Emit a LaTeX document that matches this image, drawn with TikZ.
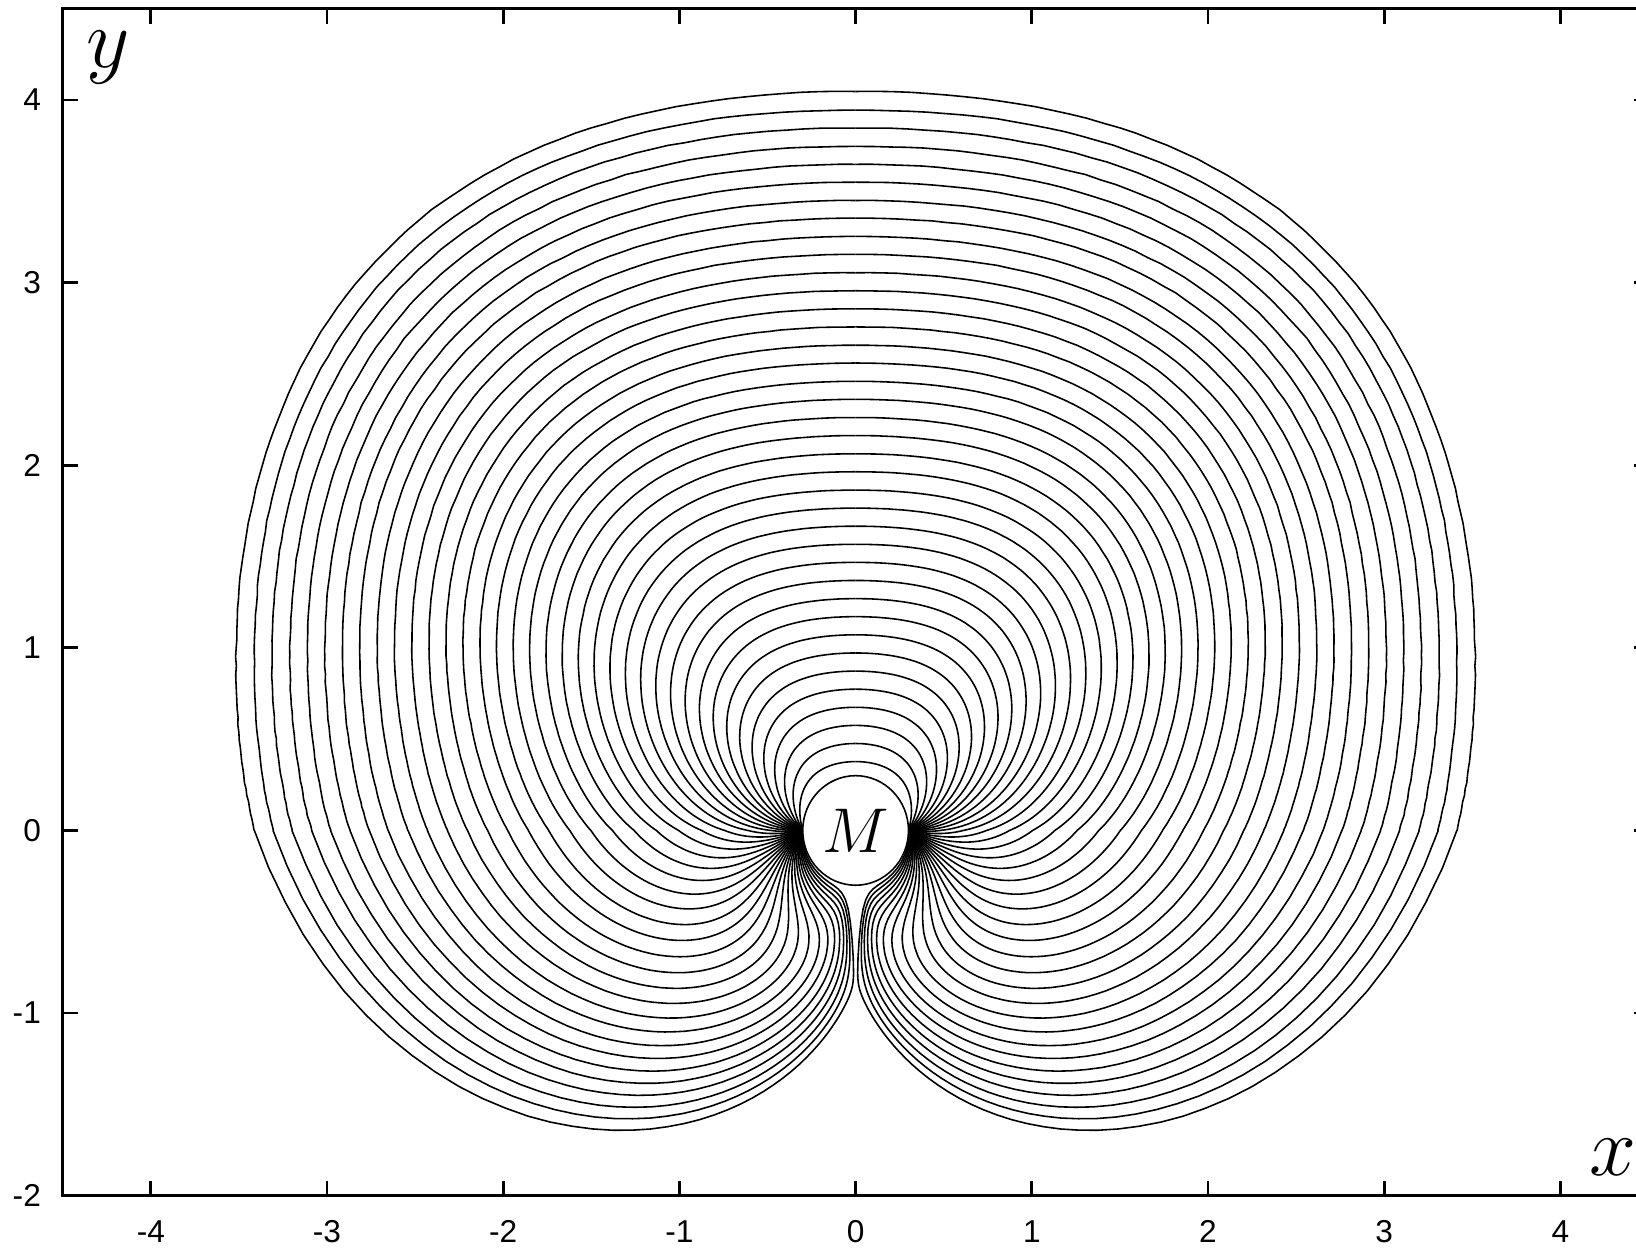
\RequirePackage{fix-cm}
\documentclass[tikz,border=0pt]{standalone}
\usepackage{fontspec}
\newfontfamily\ticksfont{Liberation Sans}

\begin{document}
\begin{tikzpicture}[x=1.762cm,y=1.826cm,
  fieldline/.style={line width=0.45pt,line join=round},
  axisline/.style={line width=0.8pt},
  ticklabel/.style={font=\ticksfont\fontsize{9}{10}\selectfont,inner sep=0pt},
  axislabel/.style={font=\fontsize{24}{26}\selectfont,anchor=base,inner sep=0pt},
  declare function={
    bup(\t)=2.4177+2.2876*cos(\t+90)-1.2908*cos(2*\t+180)+0.614*cos(3*\t+270)-0.2885*cos(4*\t);
    rlow(\t)=3.42-1.9*((180-\t)/90)-0.63*((180-\t)/90)^2;
    darm(\t)=0.6742+0.8391*(1-exp(-(\t-90)/4));
    blow(\t)=2.26*(darm(\t)+sin(\t)*0.6/rlow(\t));
    glow(\t)=2.26*darm(\t)/rlow(\t);}]
\useasboundingbox (-4.856,-2.286) rectangle (4.429,4.548);
\clip (-4.856,-2.286) rectangle (4.429,4.548);

% lines from the left point round to the right point, top at y=0.377..4.045
\foreach \k in {1,...,38}{
  \pgfmathsetmacro\rt{2*atan(0.3/(0.377+0.0991*(\k-1)))/57.29578}
  \pgfmathsetmacro\cc{0.6/\rt-2.26*\rt-3.74}
  \xdef\pts{}
  \pgfmathtruncatemacro\lobe{3.42+\cc>0}
  \ifnum\lobe=1
    \xdef\tlo{90}\xdef\thi{180}
    \foreach \i in {1,...,18}{
      \pgfmathsetmacro\mdv{(\tlo+\thi)/2}
      \pgfmathsetmacro\hv{blow(\mdv)+\cc-sqrt(5.424*glow(\mdv)*sin(\mdv))}
      \pgfmathsetmacro\nlo{\hv<0?\mdv:\tlo}
      \pgfmathsetmacro\nhi{\hv<0?\thi:\mdv}
      \xdef\tlo{\nlo}\xdef\thi{\nhi}
    }
    \foreach \j in {-20,...,50}{
      \pgfmathsetmacro\uv{\j<0?\j/20:\j/50}
      \pgfmathsetmacro\thv{\thi+(180-\thi)*\uv*\uv}
      \pgfmathsetmacro\sv{max(sin(\thv),0.001)}
      \pgfmathsetmacro\Bv{blow(\thv)+\cc}
      \pgfmathsetmacro\gv{glow(\thv)}
      \pgfmathsetmacro\qv{sqrt(max(\Bv*\Bv-5.424*\gv*\sv,0))}
      \pgfmathsetmacro\rv{\uv<0?(\Bv+\qv)/(4.52*\sv):1.2*\gv/(\Bv+\qv)}
      \pgfmathsetmacro\Dv{\uv<0?(\Bv+\qv)/4.52:\rv*\sv}
      \pgfmathsetmacro\tv{max(\rv*cos(\thv),-7)}
      \pgfmathsetmacro\nv{abs(\tv)+abs(\Dv)}
      \pgfmathsetmacro\av{sinh(\tv/2)/\nv}
      \pgfmathsetmacro\bv{sin(deg(\Dv/2))/\nv}
      \pgfmathsetmacro\den{2*\nv*(\av*\av+\bv*\bv)}
      \pgfmathsetmacro\px{0.3*(sinh(\tv)/\nv)/\den}
      \pgfmathsetmacro\py{-0.3*(sin(deg(\Dv))/\nv)/\den}
      \ifx\pts\empty \xdef\pts{(\px,\py)}\else \xdef\pts{\pts -- (\px,\py)}\fi
    }
  \fi
  \foreach \j in {0,...,90}{
    \pgfmathsetmacro\thv{-180+45*(\j/90)*(1+\j/90)}
    \pgfmathsetmacro\sv{min(sin(\thv),-0.001)}
    \pgfmathsetmacro\Bv{bup(\thv)+\cc}
    \pgfmathsetmacro\qv{sqrt(\Bv*\Bv-5.424*\sv)}
    \pgfmathsetmacro\rv{\Bv>0?1.2/(\Bv+\qv):(\Bv-\qv)/(4.52*\sv)}
    \pgfmathsetmacro\Dv{\rv*\sv}
    \pgfmathsetmacro\tv{max(\rv*cos(\thv),-7)}
    \pgfmathsetmacro\nv{abs(\tv)+abs(\Dv)}
    \pgfmathsetmacro\av{sinh(\tv/2)/\nv}
    \pgfmathsetmacro\bv{sin(deg(\Dv/2))/\nv}
    \pgfmathsetmacro\den{2*\nv*(\av*\av+\bv*\bv)}
    \pgfmathsetmacro\px{0.3*(sinh(\tv)/\nv)/\den}
    \pgfmathsetmacro\py{-0.3*(sin(deg(\Dv))/\nv)/\den}
    \ifx\pts\empty \xdef\pts{(\px,\py)}\else \xdef\pts{\pts -- (\px,\py)}\fi
  }
  \edef\tmp{\noexpand\draw[fieldline] \pts;}\tmp
  \edef\tmp{\noexpand\draw[fieldline,xscale=-1] \pts;}\tmp
}

\draw[fieldline,fill=white] (0,0) ellipse [x radius=0.3,y radius=0.3];
\node[anchor=base,inner sep=0pt,font=\fontsize{18}{20}\selectfont] (mass) at (0,-0.123) {$M$};

\draw[axisline] (-4.5,-2) rectangle (4.5,4.5);
\foreach \x [count=\i] in {-4,...,4}{
  \draw[axisline] (\x,-2) -- ++(0,0.082);
  \draw[axisline] (\x,4.5) -- ++(0,-0.082);
  \node[ticklabel] (xtick\i) at (\x,-2.196) {\x};
}
\foreach \y [count=\i] in {-2,...,4}{
  \draw[axisline] (-4.5,\y) -- ++(0.085,0);
  \draw[axisline] (4.5,\y) -- ++(-0.085,0);
  \node[ticklabel,anchor=east] (ytick\i) at (-4.62,\y) {\y};
}
\node[axislabel] (xlab) at (4.30,-1.887) {$x$};
\node[axislabel] (ylab) at (-4.243,4.176) {$y$};
\end{tikzpicture}
\end{document}
